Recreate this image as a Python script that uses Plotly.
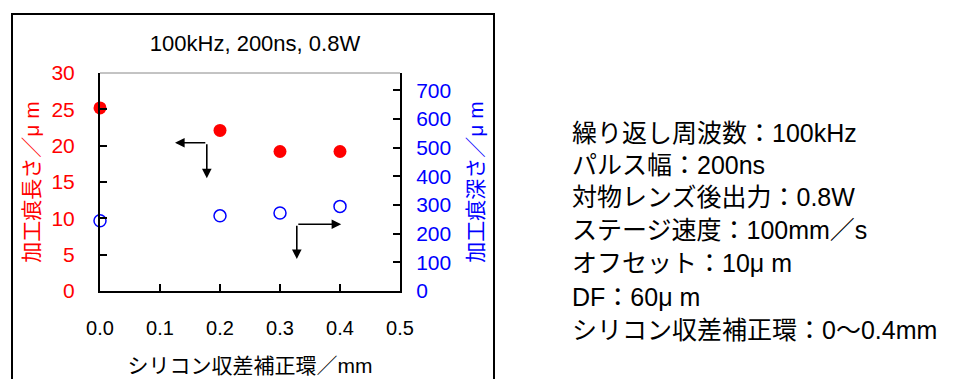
import plotly.graph_objects as go

# ---- data ----
x_ring = [0.0, 0.2, 0.3, 0.4]                 # シリコン収差補正環 (mm)
length_um = [25.2, 22.1, 19.2, 19.2]          # 加工痕長さ (μm) - left axis
depth_um = [245, 262, 272, 295]               # 加工痕深さ (μm) - right axis

x_ticks = [0.0, 0.1, 0.2, 0.3, 0.4, 0.5]
y_left_ticks = [0, 5, 10, 15, 20, 25, 30]
y_right_ticks = [0, 100, 200, 300, 400, 500, 600, 700]

chart_title = "100kHz, 200ns, 0.8W"
x_title = "シリコン収差補正環／mm"
y_left_title = "加工痕長さ／μ m"
y_right_title = "加工痕深さ／μ m"
conditions = [
    "繰り返し周波数：100kHz",
    "パルス幅：200ns",
    "対物レンズ後出力：0.8W",
    "ステージ速度：100mm／s",
    "オフセット：10μ m",
    "DF：60μ m",
    "シリコン収差補正環：0〜0.4mm",
]

FONT = "Liberation Sans, Arial, Noto Sans CJK JP, sans-serif"
RED = "#FF0000"
BLUE = "#0000FF"

fig = go.Figure()
fig.add_trace(go.Scatter(
    x=x_ring, y=length_um, mode="markers", yaxis="y",
    marker=dict(symbol="circle", size=13, color=RED),
    cliponaxis=False, showlegend=False,
))
fig.add_trace(go.Scatter(
    x=x_ring, y=depth_um, mode="markers", yaxis="y2",
    marker=dict(symbol="circle-open", size=12, color=BLUE, line=dict(width=1.5, color=BLUE)),
    cliponaxis=False, showlegend=False,
))

L, R, T, B = 100, 400, 73, 291
W, H = 956, 379

fig.update_layout(
    width=W, height=H,
    margin=dict(l=L, r=W - R, t=T, b=H - B, pad=0, autoexpand=False),
    paper_bgcolor="white", plot_bgcolor="white",
    font=dict(family=FONT, color="black"),
    title=dict(text=chart_title, x=(255 - L) / (R - L), xref="paper", xanchor="center",
               y=1 - 43 / H, yref="container", yanchor="middle",
               font=dict(size=22, color="black", family=FONT)),
    xaxis=dict(
        range=[0, 0.5], tickvals=x_ticks, ticktext=[f"{v:.1f}" for v in x_ticks],
        ticks="inside", ticklen=7, tickwidth=1.5, tickcolor="black", automargin=False,
        showline=True, linecolor="black", linewidth=2, showgrid=False, zeroline=False,
        tickfont=dict(size=20, color="black", family=FONT),
        ticklabelstandoff=18,
        title=dict(text=x_title, font=dict(size=21, color="black", family=FONT), standoff=20),
    ),
    yaxis=dict(
        range=[0, 30], tickvals=y_left_ticks, automargin=False,
        ticks="inside", ticklen=7, tickwidth=1.5, tickcolor="black",
        showline=True, linecolor="black", linewidth=2, showgrid=False, zeroline=False,
        tickfont=dict(size=21, color=RED, family=FONT),
        ticklabelstandoff=19,
        title=dict(text=y_left_title, font=dict(size=21, color=RED, family=FONT), standoff=6),
    ),
    yaxis2=dict(
        range=[0, 760], tickvals=y_right_ticks, overlaying="y", side="right", automargin=False,
        ticks="inside", ticklen=7, tickwidth=1.5, tickcolor="black",
        showline=True, linecolor="black", linewidth=2, showgrid=False, zeroline=False,
        tickfont=dict(size=21, color=BLUE, family=FONT),
        ticklabelstandoff=10,
        title=dict(text=y_right_title, font=dict(size=21, color=BLUE, family=FONT), standoff=18),
    ),
)

# plot-area top border (thin gray) and outer frame
fig.add_shape(type="line", xref="paper", yref="paper", x0=0, x1=1, y0=1, y1=1,
              line=dict(color="#888888", width=1))
fig.add_shape(type="rect", xref="paper", yref="paper",
              x0=(12 - L) / (R - L), x1=(494 - L) / (R - L),
              y0=(B - 392) / (B - T), y1=(B - 14) / (B - T),
              line=dict(color="black", width=2), fillcolor="rgba(0,0,0,0)", layer="below")

# elbow arrows
def arrow(x_tip, y_tip, x_tail, y_tail):
    fig.add_annotation(x=x_tip, y=y_tip, ax=x_tail, ay=y_tail, xref="x", yref="y",
                       axref="x", ayref="y", text="", showarrow=True,
                       arrowhead=2, arrowsize=1.2, arrowwidth=1.6, arrowcolor="black")

arrow(0.125, 20.4, 0.178, 20.4)
arrow(0.178, 15.5, 0.178, 20.4)
arrow(0.402, 9.18, 0.328, 9.18)
arrow(0.328, 4.4, 0.328, 9.18)

# conditions text
line_y = [133, 165, 197, 230, 263, 297, 330]
for txt, yy in zip(conditions, line_y):
    fig.add_annotation(text=txt, xref="paper", yref="paper",
                       x=(570 - L) / (R - L), y=(B - yy) / (B - T),
                       xanchor="left", yanchor="middle", showarrow=False,
                       font=dict(size=25, color="black", family=FONT))

fig.write_html("out.html", config={"displayModeBar": False},
               post_script="document.body.style.margin='0';")
